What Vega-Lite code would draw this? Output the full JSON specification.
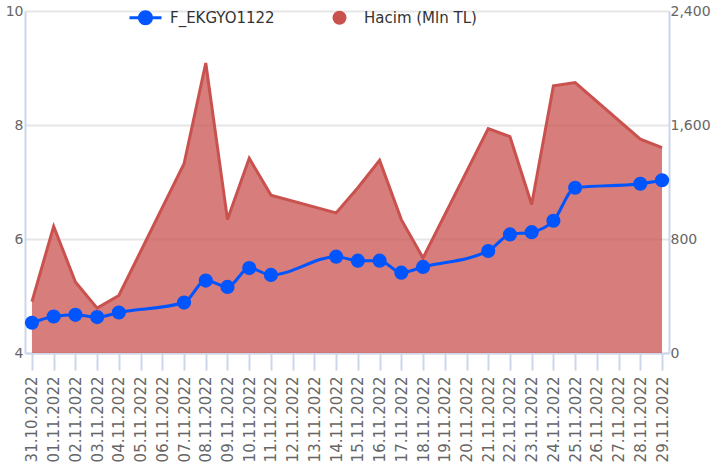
{
  "$schema": "https://vega.github.io/schema/vega-lite/v6.json",
  "width": 644,
  "height": 342,
  "autosize": {"type": "none"},
  "padding": {"left": 25, "top": 11, "right": 46, "bottom": 123},
  "config": {
    "font": "DejaVu Sans",
    "view": {"stroke": null},
    "axis": {"labelColor": "#666666", "labelFont": "DejaVu Sans", "titleColor": "#666666"}
  },
  "data": {
    "values": [
      {"date": "31.10.2022", "price": 4.53, "volume": 361},
      {"date": "01.11.2022", "price": 4.64, "volume": 889},
      {"date": "02.11.2022", "price": 4.67, "volume": 498},
      {"date": "03.11.2022", "price": 4.63, "volume": 315},
      {"date": "04.11.2022", "price": 4.71, "volume": 404},
      {"date": "07.11.2022", "price": 4.885, "volume": 1328},
      {"date": "08.11.2022", "price": 5.27, "volume": 2035},
      {"date": "09.11.2022", "price": 5.16, "volume": 936},
      {"date": "10.11.2022", "price": 5.49, "volume": 1366},
      {"date": "11.11.2022", "price": 5.37, "volume": 1108},
      {"date": "14.11.2022", "price": 5.69, "volume": 983},
      {"date": "15.11.2022", "price": 5.62, "volume": 1160},
      {"date": "16.11.2022", "price": 5.62, "volume": 1352},
      {"date": "17.11.2022", "price": 5.41, "volume": 936},
      {"date": "18.11.2022", "price": 5.51, "volume": 667},
      {"date": "21.11.2022", "price": 5.79, "volume": 1575},
      {"date": "22.11.2022", "price": 6.08, "volume": 1518},
      {"date": "23.11.2022", "price": 6.12, "volume": 1042},
      {"date": "24.11.2022", "price": 6.32, "volume": 1875},
      {"date": "25.11.2022", "price": 6.9, "volume": 1898},
      {"date": "28.11.2022", "price": 6.97, "volume": 1500},
      {"date": "29.11.2022", "price": 7.03, "volume": 1441}
    ]
  },
  "encoding": {
    "x": {
      "field": "date",
      "type": "ordinal",
      "sort": null,
      "scale": {
        "type": "point",
        "padding": 0.32,
        "domain": ["31.10.2022", "01.11.2022", "02.11.2022", "03.11.2022", "04.11.2022", "05.11.2022", "06.11.2022", "07.11.2022", "08.11.2022", "09.11.2022", "10.11.2022", "11.11.2022", "12.11.2022", "13.11.2022", "14.11.2022", "15.11.2022", "16.11.2022", "17.11.2022", "18.11.2022", "19.11.2022", "20.11.2022", "21.11.2022", "22.11.2022", "23.11.2022", "24.11.2022", "25.11.2022", "26.11.2022", "27.11.2022", "28.11.2022", "29.11.2022"]
      },
      "axis": {
        "title": null,
        "labelAngle": -90,
        "labelOverlap": false,
        "tickSize": 17,
        "tickWidth": 2,
        "tickColor": "#ccd6eb",
        "domainColor": "#ccd6eb",
        "domainWidth": 2,
        "labelFontSize": 15,
        "labelPadding": 6,
        "grid": false
      }
    }
  },
  "layer": [
    {
      "mark": {"type": "area", "opacity": 0.75, "line": {"strokeWidth": 3}},
      "encoding": {
        "y": {
          "field": "volume",
          "type": "quantitative",
          "scale": {"domain": [0, 2400], "nice": false},
          "axis": {
            "orient": "right",
            "title": null,
            "values": [0, 800, 1600, 2400],
            "format": ",.0f",
            "grid": false,
            "ticks": false,
            "tickSize": 0,
            "labelPadding": 1,
            "labelFontSize": 14,
            "domainColor": "#ccd6eb",
            "domainWidth": 2
          }
        },
        "color": {
          "datum": "Hacim (Mln TL)",
          "type": "nominal",
          "scale": {"domain": ["F_EKGYO1122", "Hacim (Mln TL)"], "range": ["#0055ff", "#c9524f"]},
          "legend": {
            "title": null,
            "orient": "none",
            "legendX": 113,
            "legendY": -1,
            "direction": "horizontal",
            "padding": 0,
            "symbolSize": 1024,
            "labelOffset": 17,
            "columnPadding": 57,
            "labelFontSize": 15,
            "labelColor": "#333333",
            "labelFont": "DejaVu Sans",
            "encode": {
              "symbols": {
                "update": {
                  "shape": {"signal": "datum.value === 'F_EKGYO1122' ? 'M-1,-0.09H1V0.09H-1Z M0.47,0A0.47,0.47 0 1,1 -0.47,0A0.47,0.47 0 1,1 0.47,0Z' : 'circle'"},
                  "size": {"signal": "datum.value === 'F_EKGYO1122' ? 1024 : 196"},
                  "fill": {"signal": "datum.value === 'F_EKGYO1122' ? '#0055ff' : '#c9524f'"},
                  "strokeWidth": {"value": 0},
                  "opacity": {"value": 1},
                  "fillOpacity": {"value": 1}
                }
              }
            }
          }
        }
      }
    },
    {
      "mark": {"type": "line", "interpolate": "monotone", "strokeWidth": 3, "point": {"filled": true, "size": 200, "opacity": 1}},
      "encoding": {
        "y": {
          "field": "price",
          "type": "quantitative",
          "scale": {"domain": [4, 10], "nice": false, "zero": false},
          "axis": {
            "orient": "left",
            "title": null,
            "values": [4, 6, 8, 10],
            "grid": true,
            "gridColor": "#e6e6e6",
            "gridWidth": 2,
            "ticks": false,
            "tickSize": 0,
            "labelPadding": 2,
            "labelFontSize": 14,
            "domainColor": "#ccd6eb",
            "domainWidth": 2
          }
        },
        "color": {"datum": "F_EKGYO1122", "type": "nominal"}
      }
    }
  ],
  "resolve": {"scale": {"y": "independent"}}
}
